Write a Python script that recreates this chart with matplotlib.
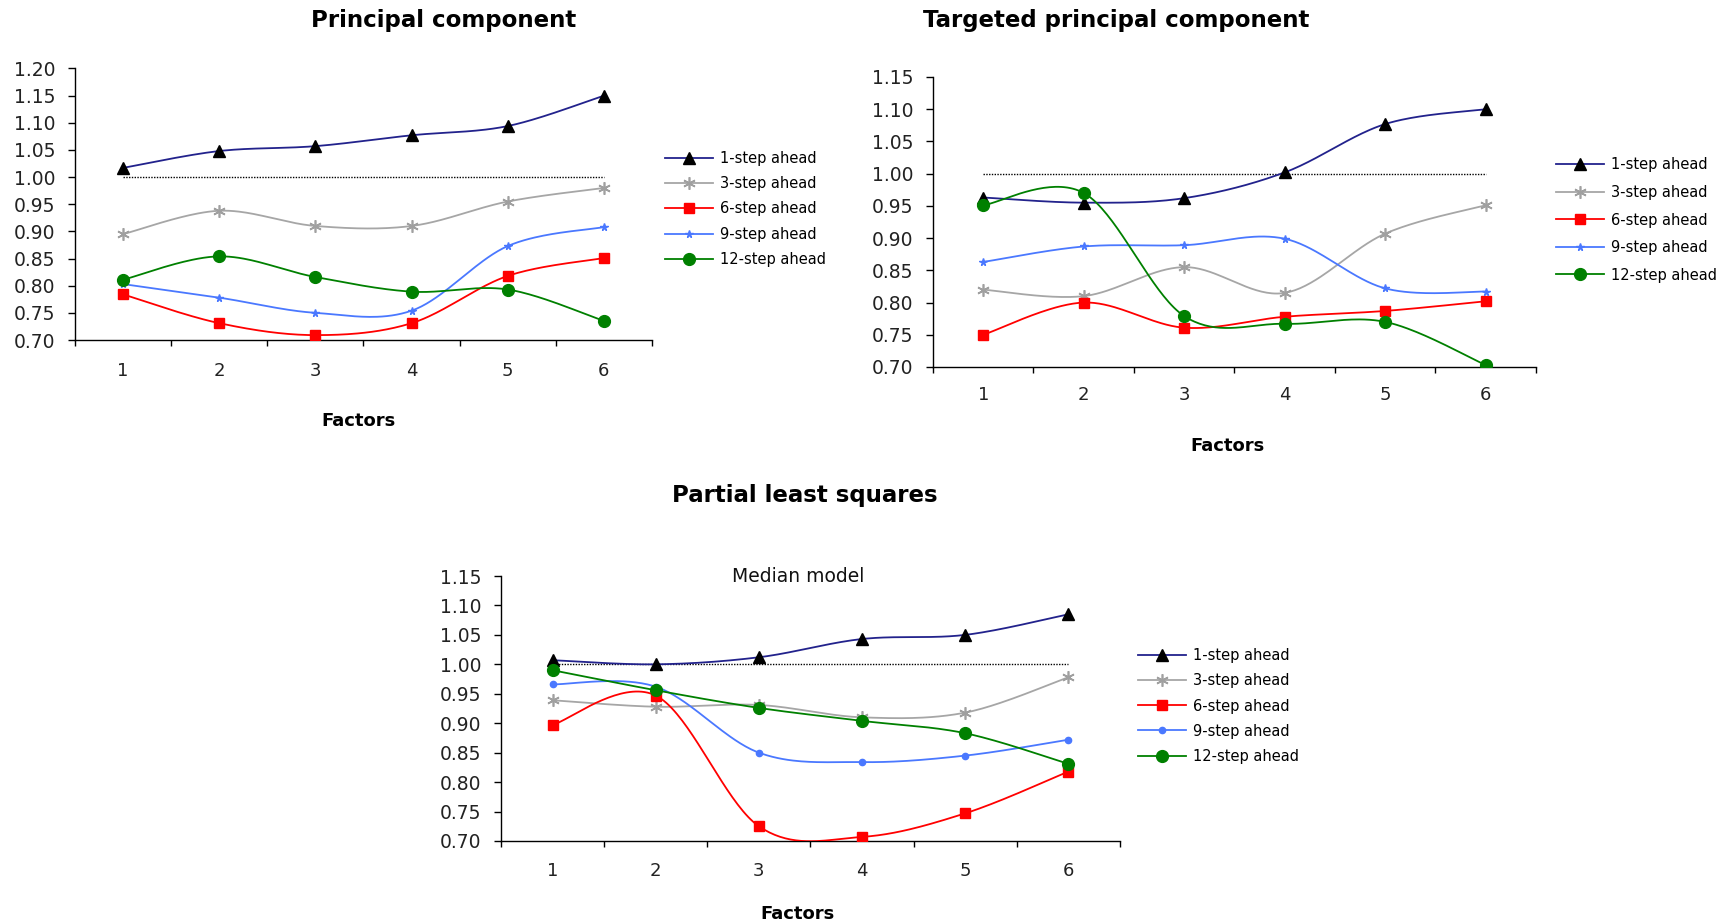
import numpy as np
import matplotlib
matplotlib.use("Agg")
import matplotlib.pyplot as plt
from matplotlib.lines import Line2D

factors = [1, 2, 3, 4, 5, 6]
series_labels = ["1-step ahead", "3-step ahead", "6-step ahead", "9-step ahead", "12-step ahead"]

# Principal component
pc_1 = [1.017, 1.048, 1.057, 1.077, 1.094, 1.150]
pc_3 = [0.895, 0.938, 0.910, 0.910, 0.955, 0.980]
pc_6 = [0.784, 0.731, 0.709, 0.731, 0.818, 0.851]
pc_9 = [0.803, 0.778, 0.750, 0.754, 0.873, 0.908]
pc_12 = [0.811, 0.854, 0.816, 0.789, 0.793, 0.735]

# Targeted principal component
tpc_1 = [0.963, 0.955, 0.962, 1.002, 1.077, 1.100]
tpc_3 = [0.820, 0.810, 0.855, 0.815, 0.907, 0.951]
tpc_6 = [0.750, 0.800, 0.761, 0.778, 0.787, 0.802]
tpc_9 = [0.863, 0.887, 0.889, 0.899, 0.822, 0.817]
tpc_12 = [0.951, 0.970, 0.779, 0.767, 0.770, 0.703]

# Partial least squares (median model)
pls_1 = [1.007, 1.000, 1.012, 1.043, 1.050, 1.085]
pls_3 = [0.939, 0.928, 0.931, 0.910, 0.918, 0.978]
pls_6 = [0.897, 0.947, 0.725, 0.707, 0.747, 0.818]
pls_9 = [0.966, 0.962, 0.850, 0.834, 0.845, 0.872]
pls_12 = [0.990, 0.956, 0.926, 0.904, 0.883, 0.831]

line_colors = ["#22228c", "#a6a6a6", "#ff0000", "#4a78ff", "#008000"]
marker_face = ["#000000", "#a0a0a0", "#ff0000", "#4a78ff", "#008000"]
asterisk = (6, 2, 0)


def smooth(x, y, n=40):
    pts = np.column_stack([x, y]).astype(float)
    P = np.vstack([pts[0], pts, pts[-1]])
    out = []
    for i in range(1, len(P) - 2):
        p0, p1, p2, p3 = P[i - 1], P[i], P[i + 1], P[i + 2]
        c1 = p1 + (p2 - p0) / 6.0
        c2 = p2 - (p3 - p1) / 6.0
        t = np.linspace(0, 1, n)[:, None]
        seg = (1 - t) ** 3 * p1 + 3 * (1 - t) ** 2 * t * c1 + 3 * (1 - t) * t ** 2 * c2 + t ** 3 * p2
        out.append(seg if i == 1 else seg[1:])
    return np.vstack(out)


fig = plt.figure(figsize=(17.33, 9.23), dpi=100)
plt.rcParams['font.family'] = ['DejaVu Sans']
W, H = 1733.0, 923.0


def make_ax(left, right, top, bottom):
    return fig.add_axes([left / W, 1 - bottom / H, (right - left) / W, (bottom - top) / H])


def draw_panel(ax, data, ymax, markers9, xpad, legend_xy, legend_sp):
    markers = ["^", asterisk, "s", markers9[0], "o"]
    msizes = [8, 9, 6.5, markers9[1], 8.5]
    mews = [1, 1.2, 1, 1, 1]
    ax.plot([1, 6], [1.0, 1.0], color="black", linestyle=(0, (1, 1)), linewidth=1.0, zorder=1)
    handles = []
    for k, vals in enumerate(data):
        c = smooth(factors, vals)
        ax.plot(c[:, 0], c[:, 1], color=line_colors[k], linewidth=1.3, zorder=2 + k)
        ax.plot(factors, vals, linestyle="none", marker=markers[k], markersize=msizes[k],
                markerfacecolor=marker_face[k], markeredgecolor=marker_face[k],
                markeredgewidth=mews[k], zorder=2.5 + k)
        handles.append(Line2D([], [], color=line_colors[k], linewidth=1.3, marker=markers[k],
                              markersize=msizes[k], markerfacecolor=marker_face[k],
                              markeredgecolor=marker_face[k], markeredgewidth=mews[k]))
    ax.set_xlim(0.5, 6.5)
    ax.set_ylim(0.70, ymax)
    ax.set_yticks(np.round(np.arange(0.70, ymax + 0.001, 0.05), 2))
    ax.set_yticklabels(["%.2f" % v for v in np.arange(0.70, ymax + 0.001, 0.05)])
    ax.set_xticks(factors)
    ax.set_xticklabels([str(f) for f in factors])
    ax.set_xticks(np.arange(0.5, 7.0, 1.0), minor=True)
    ax.tick_params(axis="x", which="major", length=0, pad=xpad, labelsize=13, labelcolor="#222222")
    ax.tick_params(axis="x", which="minor", length=4, width=1.0, direction="out")
    ax.tick_params(axis="y", which="major", length=5, width=1.0, direction="out", pad=9,
                   labelsize=13.5, labelcolor="#222222")
    for s in ["top", "right"]:
        ax.spines[s].set_visible(False)
    for s in ["left", "bottom"]:
        ax.spines[s].set_linewidth(1.0)
        ax.spines[s].set_color("black")
    ax.set_facecolor("white")
    ax.legend(handles, series_labels, loc="center left", bbox_to_anchor=(legend_xy[0] / W, 1 - legend_xy[1] / H),
              bbox_transform=fig.transFigure, frameon=False, fontsize=10.5, borderpad=0,
              borderaxespad=0, handlelength=3.3, handletextpad=0.45, labelspacing=legend_sp)


ax1 = make_ax(75, 652, 68.5, 340)
draw_panel(ax1, [pc_1, pc_3, pc_6, pc_9, pc_12], 1.20, ("*", 5.5), 16, (665, 209), 0.70)

ax2 = make_ax(933, 1536, 77, 367)
draw_panel(ax2, [tpc_1, tpc_3, tpc_6, tpc_9, tpc_12], 1.15, ("*", 5.5), 14, (1556, 220), 0.86)

ax3 = make_ax(501, 1120, 576, 841)
draw_panel(ax3, [pls_1, pls_3, pls_6, pls_9, pls_12], 1.15, ("o", 4.5), 15, (1138, 706), 0.69)

fig.text(444 / W, 1 - 20 / H, "Principal component", ha="center", va="center", fontsize=16.5, fontweight="bold")
fig.text(1116 / W, 1 - 20 / H, "Targeted principal component", ha="center", va="center", fontsize=16.5, fontweight="bold")
fig.text(805 / W, 1 - 496 / H, "Partial least squares", ha="center", va="center", fontsize=16.5, fontweight="bold")
fig.text(798 / W, 1 - 576 / H, "Median model", ha="center", va="center", fontsize=13.5, color="#111111")
fig.text(359 / W, 1 - 421 / H, "Factors", ha="center", va="center", fontsize=13, fontweight="bold")
fig.text(1228 / W, 1 - 446 / H, "Factors", ha="center", va="center", fontsize=13, fontweight="bold")
fig.text(798 / W, 1 - 914 / H, "Factors", ha="center", va="center", fontsize=13, fontweight="bold")

fig.savefig("out.png", dpi=100, facecolor="white")
